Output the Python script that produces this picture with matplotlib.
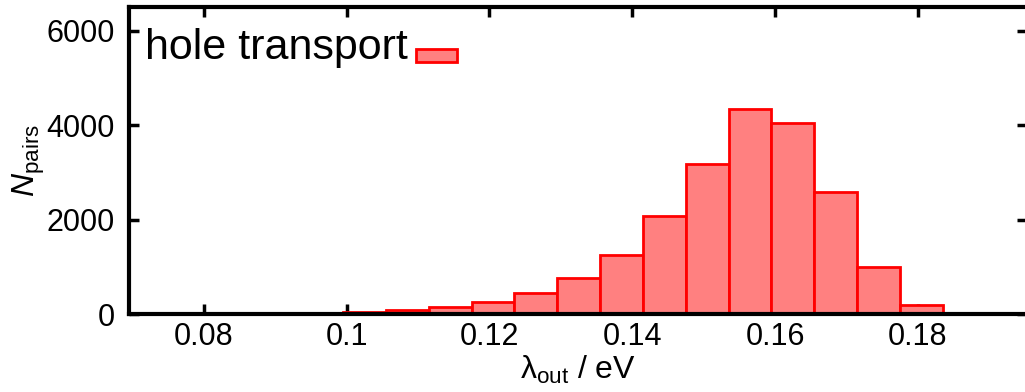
import matplotlib.pyplot as plt
from matplotlib.patches import Rectangle
from matplotlib.container import BarContainer
from matplotlib.legend_handler import HandlerPatch

plt.rcParams['font.family'] = ['Liberation Sans', 'DejaVu Sans']
plt.rcParams['mathtext.fontset'] = 'custom'
plt.rcParams['mathtext.rm'] = 'Liberation Sans'
plt.rcParams['mathtext.it'] = 'Liberation Sans:italic'

# histogram of outer-sphere reorganisation energies (bin centres in eV)
bin_centers = [0.1025, 0.1085, 0.1145, 0.1205, 0.1265, 0.1325, 0.1385,
               0.1445, 0.1505, 0.1565, 0.1625, 0.1685, 0.1745, 0.1805]
counts = [50, 90, 155, 260, 450, 757, 1250,
          2080, 3180, 4350, 4040, 2580, 1000, 190]
bin_width = 0.006

W, H = 1025, 392
fig = plt.figure(figsize=(W / 100, H / 100), dpi=100)
# axes box in pixels: left 129, right 1027, top 7, bottom 314
ax_w, ax_h = 1027 - 129, 314 - 7
ax = fig.add_axes([129 / W, 1 - 314 / H, ax_w / W, ax_h / H])

ax.bar(bin_centers, counts, width=bin_width, color='#ff8080',
       edgecolor='#ff0000', linewidth=2, label='hole transport', zorder=2)

ax.set_xlim(0.0695, 0.1953)
ax.set_ylim(0, 6500)
ax.set_xticks([0.08, 0.1, 0.12, 0.14, 0.16, 0.18])
ax.set_xticklabels(['0.08', '0.1', '0.12', '0.14', '0.16', '0.18'])
ax.set_yticks([0, 2000, 4000, 6000])

for sp in ax.spines.values():
    sp.set_linewidth(3)
    sp.set_zorder(3)
ax.tick_params(direction='in', length=7, width=2.5, labelsize=22,
               top=True, right=True)
ax.tick_params(axis='x', pad=6)
ax.tick_params(axis='y', pad=10)

ax.set_xlabel('λ$_{\\mathrm{out}}$ / eV', fontsize=23, labelpad=1)
ax.set_ylabel('$N_{\\mathrm{pairs}}$', fontsize=23, labelpad=0)


# gnuplot-like key: flat box sitting low, near the text baseline
def key_box(legend, orig_handle, xdescent, ydescent, width, height, fontsize):
    return Rectangle((-xdescent, -2), width, 0.3 * fontsize)


def from_first_bar(legend_handle, orig_handle):
    legend_handle.update_from(orig_handle.patches[0])


leg = ax.legend(loc='upper left', frameon=False, fontsize=31, markerfirst=False,
                handlelength=0.95, handleheight=0.33, handletextpad=0.2,
                borderaxespad=0, borderpad=0,
                bbox_to_anchor=(16 / ax_w, 1 - 21 / ax_h),
                handler_map={BarContainer: HandlerPatch(patch_func=key_box,
                                                        update_func=from_first_bar)})

plt.savefig('out.png', dpi=100)
